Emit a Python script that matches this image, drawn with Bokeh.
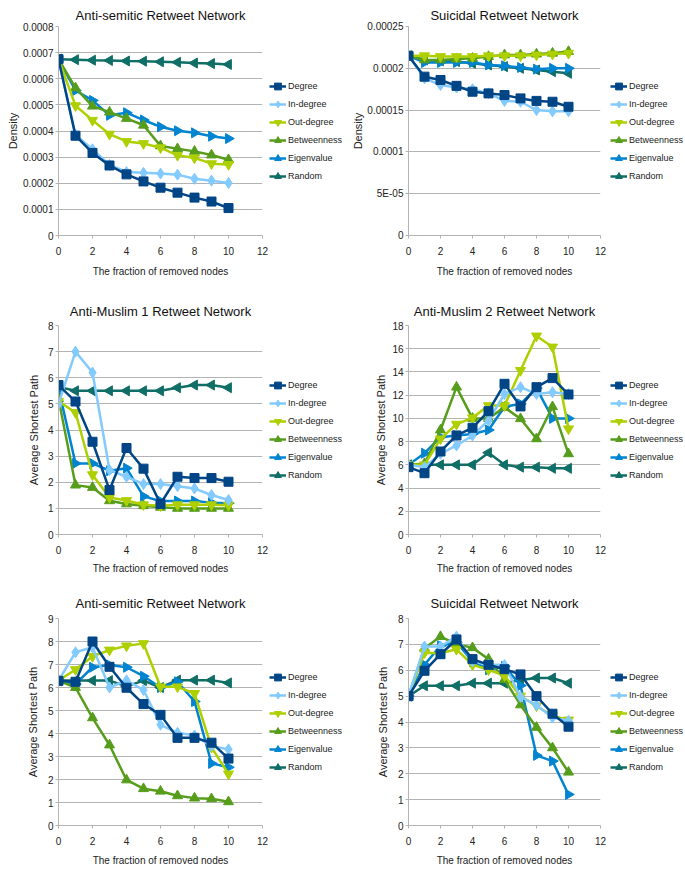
import numpy as np
from bokeh.plotting import figure
from bokeh.layouts import gridplot
from bokeh.models import FixedTicker, Legend, LegendItem, Range1d
from bokeh.embed import file_html
from bokeh.resources import INLINE

# ---------------- data ----------------
removed = [0, 1, 2, 3, 4, 5, 6, 7, 8, 9, 10]
series_names = ["Degree", "In-degree", "Out-degree", "Betweenness", "Eigenvalue", "Random"]

# Panel 1: Anti-semitic Retweet Network - Density
as_den_degree = [6.75e-4, 3.82e-4, 3.16e-4, 2.68e-4, 2.34e-4, 2.07e-4, 1.83e-4, 1.64e-4, 1.45e-4, 1.30e-4, 1.05e-4]
as_den_indegree = [6.75e-4, 3.85e-4, 3.30e-4, 2.70e-4, 2.43e-4, 2.40e-4, 2.37e-4, 2.33e-4, 2.17e-4, 2.10e-4, 2.01e-4]
as_den_outdegree = [6.75e-4, 4.97e-4, 4.41e-4, 3.88e-4, 3.60e-4, 3.52e-4, 3.36e-4, 3.07e-4, 2.97e-4, 2.75e-4, 2.72e-4]
as_den_betweenness = [6.75e-4, 5.65e-4, 4.95e-4, 4.72e-4, 4.48e-4, 4.22e-4, 3.43e-4, 3.32e-4, 3.22e-4, 3.08e-4, 2.90e-4]
as_den_eigenvalue = [6.75e-4, 5.55e-4, 5.17e-4, 4.60e-4, 4.70e-4, 4.42e-4, 4.16e-4, 4.01e-4, 3.93e-4, 3.80e-4, 3.71e-4]
as_den_random = [6.75e-4, 6.73e-4, 6.71e-4, 6.70e-4, 6.68e-4, 6.67e-4, 6.65e-4, 6.63e-4, 6.60e-4, 6.58e-4, 6.55e-4]

# Panel 2: Suicidal Retweet Network - Density
su_den_degree = [2.15e-4, 1.90e-4, 1.86e-4, 1.79e-4, 1.72e-4, 1.70e-4, 1.68e-4, 1.64e-4, 1.61e-4, 1.60e-4, 1.54e-4]
su_den_indegree = [2.15e-4, 1.88e-4, 1.80e-4, 1.77e-4, 1.75e-4, 1.70e-4, 1.61e-4, 1.60e-4, 1.50e-4, 1.485e-4, 1.485e-4]
su_den_outdegree = [2.15e-4, 2.15e-4, 2.14e-4, 2.14e-4, 2.14e-4, 2.15e-4, 2.15e-4, 2.15e-4, 2.16e-4, 2.17e-4, 2.18e-4]
su_den_betweenness = [2.15e-4, 2.10e-4, 2.10e-4, 2.11e-4, 2.12e-4, 2.14e-4, 2.16e-4, 2.16e-4, 2.17e-4, 2.18e-4, 2.20e-4]
su_den_eigenvalue = [2.15e-4, 2.07e-4, 2.07e-4, 2.07e-4, 2.07e-4, 2.04e-4, 2.03e-4, 2.01e-4, 1.99e-4, 2.00e-4, 2.00e-4]
su_den_random = [2.15e-4, 2.10e-4, 2.09e-4, 2.08e-4, 2.06e-4, 2.04e-4, 2.02e-4, 2.00e-4, 1.98e-4, 1.96e-4, 1.94e-4]

# Panel 3: Anti-Muslim 1 Retweet Network - Average Shortest Path
am1_degree = [5.72, 5.09, 3.55, 1.70, 3.31, 2.52, 1.17, 2.21, 2.16, 2.16, 2.02]
am1_indegree = [4.99, 7.00, 6.20, 2.47, 2.21, 1.93, 1.93, 1.85, 1.76, 1.51, 1.32]
am1_outdegree = [5.10, 4.67, 2.29, 1.42, 1.30, 1.14, 1.10, 1.14, 1.14, 1.14, 1.12]
am1_betweenness = [5.20, 1.89, 1.80, 1.29, 1.17, 1.10, 1.04, 1.00, 1.00, 1.00, 1.00]
am1_eigenvalue = [5.60, 2.72, 2.72, 2.44, 2.54, 1.46, 1.28, 1.28, 1.28, 1.22, 1.20]
am1_random = [5.65, 5.50, 5.50, 5.50, 5.50, 5.50, 5.50, 5.62, 5.72, 5.72, 5.62]

# Panel 4: Anti-Muslim 2 Retweet Network - Average Shortest Path
am2_degree = [5.80, 5.28, 7.15, 8.53, 9.19, 10.62, 12.98, 11.03, 12.69, 13.47, 12.06]
am2_indegree = [6.00, 5.80, 6.95, 7.67, 8.53, 9.82, 12.10, 12.69, 12.10, 12.25, 12.10]
am2_outdegree = [6.00, 6.00, 8.24, 9.50, 10.05, 11.10, 11.10, 14.13, 17.10, 16.15, 9.10]
am2_betweenness = [6.00, 6.10, 9.00, 12.69, 10.00, 10.00, 10.95, 9.97, 8.24, 11.00, 6.95]
am2_eigenvalue = [6.00, 7.00, 8.38, 8.53, 8.65, 9.00, 11.00, 11.25, 12.60, 10.00, 10.00]
am2_random = [6.00, 6.00, 6.00, 6.00, 6.00, 7.05, 6.00, 5.80, 5.80, 5.70, 5.70]

# Panel 5: Anti-semitic Retweet Network - Average Shortest Path
as_asp_degree = [6.29, 6.25, 8.00, 6.90, 5.99, 5.28, 4.81, 3.81, 3.81, 3.60, 2.91]
as_asp_indegree = [6.30, 7.53, 7.75, 6.00, 6.31, 5.89, 4.38, 4.03, 3.91, 3.46, 3.31]
as_asp_outdegree = [6.30, 6.78, 7.35, 7.63, 7.81, 7.91, 6.03, 6.03, 5.74, 3.40, 2.24]
as_asp_betweenness = [6.30, 6.00, 4.68, 3.50, 1.98, 1.60, 1.49, 1.29, 1.19, 1.16, 1.03]
as_asp_eigenvalue = [6.30, 6.15, 6.88, 6.98, 6.88, 6.49, 6.00, 6.25, 5.39, 2.70, 2.53]
as_asp_random = [6.30, 6.30, 6.30, 6.30, 6.05, 6.30, 6.00, 6.32, 6.32, 6.32, 6.20]

# Panel 6: Suicidal Retweet Network - Average Shortest Path
su_asp_degree = [5.00, 5.98, 6.62, 7.19, 6.43, 6.21, 6.04, 5.84, 5.00, 4.32, 3.82]
su_asp_indegree = [5.00, 6.92, 6.92, 7.30, 6.34, 6.22, 6.20, 4.97, 4.65, 4.17, 4.05]
su_asp_outdegree = [5.00, 6.68, 6.66, 6.81, 6.21, 6.02, 5.79, 5.00, 4.62, 4.24, 4.08]
su_asp_betweenness = [5.00, 6.85, 7.30, 7.01, 6.87, 6.43, 5.64, 4.66, 3.79, 3.00, 2.06]
su_asp_eigenvalue = [5.00, 6.21, 6.95, 7.08, 6.34, 6.02, 6.15, 5.41, 2.71, 2.49, 1.20]
su_asp_random = [5.00, 5.40, 5.40, 5.40, 5.50, 5.50, 5.50, 5.62, 5.70, 5.70, 5.50]

x_ticks = [0, 2, 4, 6, 8, 10, 12]
den1_ticks = [0, 1e-4, 2e-4, 3e-4, 4e-4, 5e-4, 6e-4, 7e-4, 8e-4]
den1_labels = ["0", "0.0001", "0.0002", "0.0003", "0.0004", "0.0005", "0.0006", "0.0007", "0.0008"]
den2_ticks = [0, 5e-5, 1e-4, 1.5e-4, 2e-4, 2.5e-4]
den2_labels = ["0", "5E-05", "0.0001", "0.00015", "0.0002", "0.00025"]

# ---------------- style ----------------
COLORS = ["#004586", "#83caff", "#aecf00", "#579d1c", "#0084d1", "#0f6e66"]
MARKERS = ["square", "diamond", "inverted_triangle", "triangle", "triangle", "triangle"]
ANGLES = [0, 0, 0, 0, -np.pi / 2, np.pi / 2]
SIZES = [9, 11, 10, 10, 10, 10]
FONT = "Liberation Sans"
GRID = "#b3b3b3"
TXT = "#222222"


def draw_series(p, xs, ys, i):
    ln = p.line(xs, ys, line_color=COLORS[i], line_width=2.5)
    sc = p.scatter(xs, ys, marker=MARKERS[i], size=SIZES[i], angle=ANGLES[i],
                   fill_color=COLORS[i], line_color=COLORS[i])
    return [ln, sc]


def make_chart(title, ylabel, series, ymax, yticks, ylabels, size, borders,
               title_standoff, ylab_standoff, xtick_standoff, xlab_standoff):
    W, H = size
    left, right, top, bottom = borders
    p = figure(width=W, height=H, output_backend="svg", toolbar_location=None,
               x_range=Range1d(0, 12), y_range=Range1d(0, ymax),
               min_border_left=left, min_border_right=right,
               min_border_top=top, min_border_bottom=bottom)
    p.background_fill_color = "white"
    p.border_fill_color = "white"
    p.outline_line_color = None
    p.title.text = title
    p.title.align = "center"
    p.title.text_font = FONT
    p.title.text_font_size = "13px"
    p.title.text_font_style = "normal"
    p.title.text_color = "#111111"
    p.title.standoff = title_standoff

    p.xaxis.ticker = FixedTicker(ticks=x_ticks)
    p.yaxis.ticker = FixedTicker(ticks=yticks)
    if ylabels is not None:
        p.yaxis.major_label_overrides = {t: l for t, l in zip(yticks, ylabels)}
    for ax in (p.xaxis[0], p.yaxis[0]):
        ax.axis_line_color = GRID
        ax.major_tick_line_color = GRID
        ax.major_tick_out = 3
        ax.major_tick_in = 0
        ax.minor_tick_line_color = None
        ax.major_label_text_font = FONT
        ax.major_label_text_font_size = "10px"
        ax.major_label_text_color = TXT
        ax.axis_label_text_font = FONT
        ax.axis_label_text_font_style = "normal"
        ax.axis_label_text_color = TXT
    p.xaxis.major_label_standoff = xtick_standoff
    p.yaxis.major_label_standoff = 2
    p.xaxis.axis_label = "The fraction of removed nodes"
    p.xaxis.axis_label_text_font_size = "10px"
    p.xaxis.axis_label_standoff = xlab_standoff
    p.yaxis.axis_label = ylabel
    p.yaxis.axis_label_text_font_size = "11px"
    p.yaxis.axis_label_standoff = ylab_standoff

    p.xgrid.grid_line_color = None
    p.ygrid.grid_line_color = GRID
    p.ygrid.grid_line_width = 1

    # draw Random first so that Degree ends on top
    for i in reversed(range(len(series))):
        draw_series(p, removed, series[i], i)
    return p


def make_legend(series, size, borders):
    """Legend in its own narrow canvas at the right of a chart; its renderers
    use the panel's data but lie outside this canvas' range."""
    W, H = size
    left, top, bottom = borders
    q = figure(width=W, height=H, output_backend="svg", toolbar_location=None,
               x_range=Range1d(-30, -20), y_range=Range1d(-30, -20),
               x_axis_type=None, y_axis_type=None,
               min_border_left=left, min_border_right=0,
               min_border_top=top, min_border_bottom=bottom)
    q.outline_line_color = None
    q.grid.visible = False
    q.background_fill_color = "white"
    q.border_fill_color = "white"
    items = []
    for i, name in enumerate(series_names):
        rs = draw_series(q, removed, series[i], i)
        items.append(LegendItem(label=name, renderers=rs))
    legend = Legend(items=items, location="center_left")
    legend.border_line_color = None
    legend.background_fill_alpha = 0
    legend.padding = 0
    legend.margin = 0
    legend.spacing = 0
    legend.glyph_width = 17
    legend.glyph_height = 18
    legend.label_height = 18
    legend.label_standoff = 2
    legend.label_text_font = FONT
    legend.label_text_font_size = "9px"
    legend.label_text_color = TXT
    q.add_layout(legend, "center")
    return q


CW_L, LG_L = 268, 74     # left column: chart + legend  (342)
CW_R, LG_R = 264, 79     # right column: chart + legend (343)
H1, H2, H3 = 290, 290, 288

s1 = [as_den_degree, as_den_indegree, as_den_outdegree, as_den_betweenness, as_den_eigenvalue, as_den_random]
s2 = [su_den_degree, su_den_indegree, su_den_outdegree, su_den_betweenness, su_den_eigenvalue, su_den_random]
s3 = [am1_degree, am1_indegree, am1_outdegree, am1_betweenness, am1_eigenvalue, am1_random]
s4 = [am2_degree, am2_indegree, am2_outdegree, am2_betweenness, am2_eigenvalue, am2_random]
s5 = [as_asp_degree, as_asp_indegree, as_asp_outdegree, as_asp_betweenness, as_asp_eigenvalue, as_asp_random]
s6 = [su_asp_degree, su_asp_indegree, su_asp_outdegree, su_asp_betweenness, su_asp_eigenvalue, su_asp_random]

c1 = make_chart("Anti-semitic Retweet Network", "Density", s1,
                8e-4, den1_ticks, den1_labels, (CW_L, H1), (58, 6, 25, 55), 8, 1, 8, 8)
c2 = make_chart("Suicidal Retweet Network", "Density", s2,
                2.5e-4, den2_ticks, den2_labels, (CW_R, H1), (66, 6, 26, 55), 8, 0, 8, 8)
c3 = make_chart("Anti-Muslim 1 Retweet Network", "Average Shortest Path", s3,
                8, list(range(0, 9)), None, (CW_L, H2), (39, 6, 35, 46), 14, 5, 8, 6)
c4 = make_chart("Anti-Muslim 2 Retweet Network", "Average Shortest Path", s4,
                18, list(range(0, 19, 2)), None, (CW_R, H2), (39, 6, 35, 46), 14, 2, 8, 6)
c5 = make_chart("Anti-semitic Retweet Network", "Average Shortest Path", s5,
                9, list(range(0, 10)), None, (CW_L, H3), (31, 6, 37, 41), 16, 6, 8, 7)
c6 = make_chart("Suicidal Retweet Network", "Average Shortest Path", s6,
                8, list(range(0, 9)), None, (CW_R, H3), (38, 6, 38, 40), 16, 6, 8, 7)

l1 = make_legend(s1, (LG_L, H1), (1, 0, 5))
l2 = make_legend(s2, (LG_R, H1), (4, 0, 5))
l3 = make_legend(s3, (LG_L, H2), (1, 13, 0))
l4 = make_legend(s4, (LG_R, H2), (4, 13, 0))
l5 = make_legend(s5, (LG_L, H3), (1, 25, 0))
l6 = make_legend(s6, (LG_R, H3), (4, 25, 0))

grid = gridplot([[c1, l1, c2, l2], [c3, l3, c4, l4], [c5, l5, c6, l6]], toolbar_location=None)

open("out.html", "w").write(file_html(grid, INLINE))
